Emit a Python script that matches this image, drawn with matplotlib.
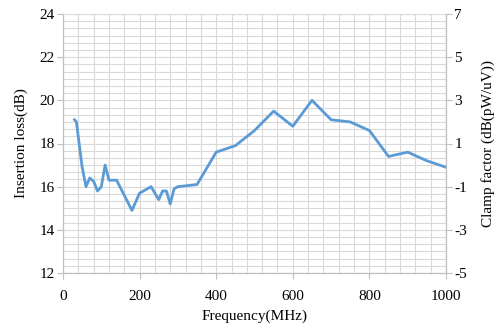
import matplotlib
matplotlib.use("Agg")
import matplotlib.pyplot as plt
from matplotlib.ticker import MultipleLocator

plt.rcParams['font.family'] = ['Liberation Serif', 'DejaVu Serif']
plt.rcParams['axes.unicode_minus'] = False

freq = [30, 35, 50, 60, 70, 80, 90, 100, 110, 120, 140, 180, 200, 230, 250, 260,
        270, 280, 290, 300, 350, 400, 450, 500, 550, 600, 650, 700, 750, 800,
        850, 900, 950, 1000]
loss = [19.1, 19.0, 16.9, 16.0, 16.4, 16.25, 15.8, 16.0, 17.0, 16.3, 16.3, 14.9,
        15.7, 16.0, 15.4, 15.8, 15.8, 15.2, 15.9, 16.0, 16.1, 17.6, 17.9, 18.6,
        19.5, 18.8, 20.0, 19.1, 19.0, 18.6, 17.4, 17.6, 17.2, 16.9]
left_ticks = [12, 14, 16, 18, 20, 22, 24]
right_ticks = [-5, -3, -1, 1, 3, 5, 7]
x_ticks = [0, 200, 400, 600, 800, 1000]

fig = plt.figure(figsize=(5.03, 3.35), dpi=100)
ax = fig.add_axes([63/503, 1-273/335, (446-63)/503, (273-14)/335])
gc = '#d9d9d9'
ax.set_xlim(0, 1000)
ax.set_ylim(12, 24)
ax.xaxis.set_minor_locator(MultipleLocator(40))
ax.yaxis.set_minor_locator(MultipleLocator(1/3))
ax.set_xticks(x_ticks)
ax.set_yticks(left_ticks)
ax.grid(True, which='both', color=gc, linewidth=0.8)
ax.set_axisbelow(True)
ax.plot(freq, loss, color='#5b9bd5', linewidth=2)
ax.spines['top'].set_visible(False)
for s in ['left', 'bottom', 'right']:
    ax.spines[s].set_color('#bfbfbf')
ax.tick_params(which='major', direction='out', length=4, color='#bfbfbf', labelsize=11, pad=2)
ax.tick_params(axis='x', which='major', pad=8)
ax.tick_params(which='minor', length=0)
ax.set_xlabel('Frequency(MHz)', fontsize=11, labelpad=5)
ax.set_ylabel('Insertion loss(dB)', fontsize=11, labelpad=8)

ax2 = ax.twinx()
ax2.set_ylim(-5, 7)
ax2.set_yticks(right_ticks)
ax2.spines['top'].set_visible(False)
for s in ['left', 'bottom', 'right']:
    ax2.spines[s].set_color('#bfbfbf')
ax2.tick_params(which='major', direction='out', length=4, color='#bfbfbf', labelsize=11, pad=2)
ax2.set_ylabel('Clamp factor (dB(pW/uV))', fontsize=11, labelpad=10)

fig.savefig('out.png', dpi=100)
